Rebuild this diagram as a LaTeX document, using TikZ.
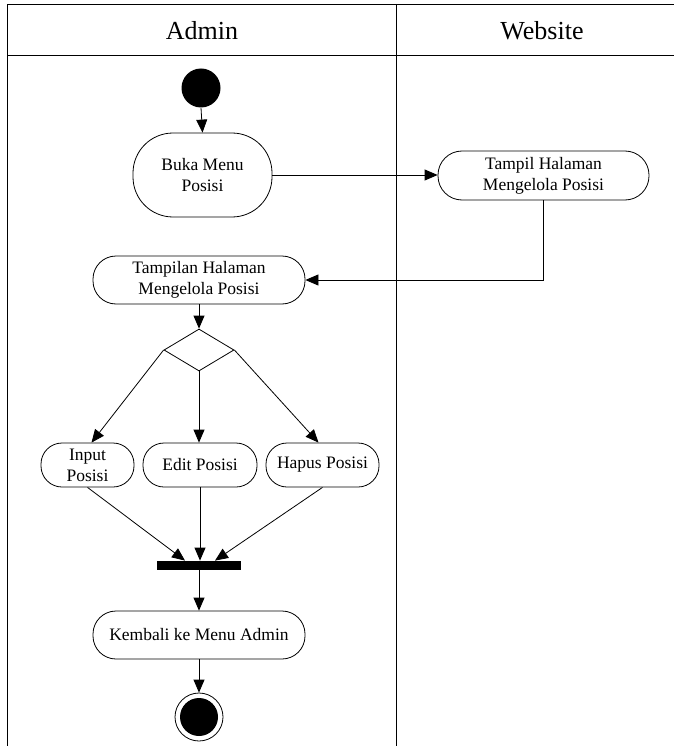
\documentclass[tikz,border=0pt]{standalone}
\usepackage{fontspec}
\setmainfont{Liberation Serif}
\usetikzlibrary{arrows.meta,shapes.geometric}
\begin{document}
\begin{tikzpicture}[x=1pt,y=-1pt,line width=0.8pt,
  act/.style={draw, rounded corners=#1, align=center, inner sep=0pt,
    font=\fontsize{17.5}{21}\selectfont},
  flow/.style={-{Triangle[length=13pt,width=11pt]}},
  hdr/.style={font=\fontsize{26}{30}\selectfont}]
\useasboundingbox (0,0) rectangle (674,746);
% swimlanes
\draw (7,746) -- (7,4) -- (674,4);
\draw (7,55) -- (674,55);
\draw (396,4) -- (396,746);
\node[hdr] (hadmin) at (202,31) {Admin};
\node[hdr] (hweb) at (542,31) {Website};
% nodes
\node[circle, fill=black, minimum size=39pt, inner sep=0pt] (start) at (201,88) {};
\node[act=40pt, minimum width=139pt, minimum height=84pt] (buka) at (202.5,175) {Buka Menu\\Posisi};
\node[act=24pt, minimum width=211pt, minimum height=49pt] (tampil) at (543.5,175.5) {Tampil Halaman\\Mengelola Posisi};
\node[act=23pt, minimum width=212pt, minimum height=48pt] (tampilan) at (199,280) {Tampilan Halaman\\Mengelola Posisi};
\node[draw, diamond, minimum width=70pt, minimum height=42pt, inner sep=0pt] (dec) at (199,350) {};
\node[act=21pt, minimum width=93pt, minimum height=44pt] (input) at (87.5,465) {Input\\Posisi};
\node[act=21pt, minimum width=114pt, minimum height=44pt] (edit) at (200,465) {Edit Posisi};
\node[act=21pt, minimum width=113pt, minimum height=44pt] (hapus) at (322.5,465) {Hapus Posisi};
\node[fill=black, minimum width=84pt, minimum height=9pt, inner sep=0pt] (bar) at (199,565.5) {};
\node[act=23pt, minimum width=212pt, minimum height=48pt] (kembali) at (199,635) {Kembali ke Menu Admin};
\node[circle, draw, minimum size=48pt, inner sep=0pt] (final) at (199,717) {};
\node[circle, fill=black, minimum size=38pt, inner sep=0pt] (finalin) at (final.center) {};
% connectors
\draw[flow] (start.south) -- (buka.north);
\draw[flow] (buka.east) -- (buka.east -| tampil.west);
\draw[flow] (tampil.south) |- (tampilan.east);
\draw[flow] (tampilan.south) -- (dec.north);
\draw[flow] (dec.west) -- ([xshift=4pt]input.north);
\draw[flow] (dec.south) -- (dec.south |- edit.north);
\draw[flow] (dec.east) -- ([xshift=-4pt]hapus.north);
\draw[flow] (input.south) -- ([xshift=-14pt]bar.north);
\draw[flow] (edit.south) -- (edit.south |- bar.north);
\draw[flow] (hapus.south) -- ([xshift=16pt]bar.north);
\draw[flow] (bar.south) -- (kembali.north);
\draw[flow] (kembali.south) -- (final.north);
\end{tikzpicture}
\end{document}
